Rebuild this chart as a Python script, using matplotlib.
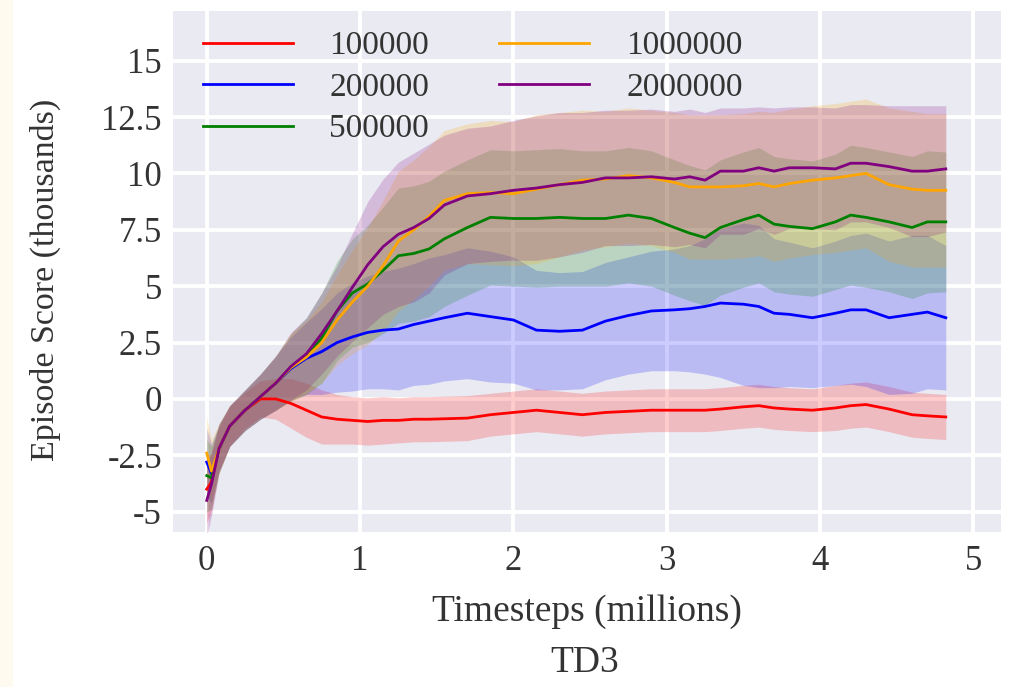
import numpy as np
import matplotlib
matplotlib.use('Agg')
import matplotlib.pyplot as plt
from matplotlib.patches import Rectangle

# ---- data (timesteps in millions, scores in thousands) ----
x = [0, 0.03, 0.08, 0.15, 0.25, 0.35, 0.45, 0.55, 0.65, 0.75, 0.85, 0.95,
     1.05, 1.15, 1.25, 1.35, 1.45, 1.55, 1.7, 1.85, 2.0, 2.15, 2.3, 2.45,
     2.6, 2.75, 2.9, 3.05, 3.15, 3.25, 3.35, 3.5, 3.6, 3.7, 3.8, 3.95,
     4.1, 4.2, 4.3, 4.45, 4.6, 4.7, 4.82]

labels = ['100000', '200000', '500000', '1000000', '2000000']
colors = ['red', 'blue', 'green', 'orange', 'purple']

mean_100k = [-4.0, -3.7, -2.2, -1.2, -0.5, 0.0, 0.0, -0.2, -0.5, -0.8, -0.9, -0.95,
             -1.0, -0.95, -0.95, -0.9, -0.9, -0.88, -0.85, -0.7, -0.6, -0.5, -0.6, -0.7,
             -0.6, -0.55, -0.5, -0.5, -0.5, -0.5, -0.45, -0.35, -0.3, -0.4, -0.45, -0.5,
             -0.4, -0.3, -0.25, -0.45, -0.7, -0.75, -0.8]
std_100k = [1.5, 1.3, 1.0, 0.9, 0.8, 0.8, 0.9, 1.1, 1.2, 1.2, 1.1, 1.05,
            1.05, 1.05, 1.0, 1.0, 1.0, 1.0, 1.0, 0.95, 0.95, 0.95, 0.95, 0.95,
            0.95, 0.95, 0.95, 0.95, 0.95, 0.95, 0.95, 0.95, 0.95, 0.95, 0.95, 0.95,
            1.0, 1.0, 1.0, 1.0, 1.0, 1.0, 1.0]

mean_200k = [-2.8, -3.3, -2.2, -1.2, -0.5, 0.1, 0.7, 1.35, 1.8, 2.1, 2.5, 2.75,
             2.95, 3.05, 3.1, 3.3, 3.45, 3.6, 3.8, 3.65, 3.5, 3.05, 3.0, 3.05,
             3.45, 3.7, 3.9, 3.95, 4.0, 4.1, 4.25, 4.2, 4.1, 3.8, 3.75, 3.6,
             3.8, 3.95, 3.95, 3.6, 3.75, 3.85, 3.6]
std_200k = [1.5, 1.3, 1.0, 0.9, 0.9, 1.0, 1.2, 1.4, 1.6, 1.9, 2.2, 2.4,
            2.5, 2.6, 2.7, 2.7, 2.8, 2.8, 2.9, 2.9, 2.8, 2.65, 2.6, 2.6,
            2.6, 2.6, 2.65, 2.7, 2.8, 3.0, 3.3, 3.6, 3.6, 3.3, 3.2, 3.1,
            3.2, 3.3, 3.4, 3.4, 3.5, 3.4, 3.2]

mean_500k = [-3.4, -3.5, -2.2, -1.2, -0.5, 0.1, 0.7, 1.4, 1.9, 2.7, 3.9, 4.7,
             5.1, 5.7, 6.35, 6.45, 6.65, 7.1, 7.6, 8.05, 8.0, 8.0, 8.05, 8.0,
             8.0, 8.15, 8.0, 7.6, 7.35, 7.15, 7.6, 7.95, 8.15, 7.75, 7.65, 7.55,
             7.85, 8.15, 8.05, 7.85, 7.6, 7.85, 7.85]
std_500k = [1.6, 1.4, 1.1, 0.9, 0.9, 1.0, 1.2, 1.5, 1.7, 2.0, 2.2, 2.4,
            2.6, 2.8, 3.0, 3.0, 3.0, 3.0, 3.0, 3.0, 3.0, 3.05, 3.05, 3.0,
            3.0, 3.0, 3.0, 3.0, 3.0, 3.0, 3.0, 3.0, 3.0, 3.0, 3.0, 3.0,
            3.0, 3.1, 3.1, 3.1, 3.15, 3.15, 3.1]

mean_1m = [-2.4, -3.2, -2.2, -1.2, -0.5, 0.1, 0.7, 1.4, 1.85, 2.5, 3.5, 4.3,
           5.0, 5.9, 7.0, 7.5, 8.1, 8.8, 9.1, 9.15, 9.1, 9.3, 9.5, 9.7,
           9.75, 9.9, 9.8, 9.6, 9.4, 9.4, 9.4, 9.45, 9.55, 9.4, 9.55, 9.7,
           9.8, 9.9, 10.0, 9.5, 9.3, 9.25, 9.25]
std_1m = [1.6, 1.4, 1.1, 0.9, 0.9, 1.0, 1.2, 1.5, 1.6, 1.8, 2.0, 2.3,
          2.6, 2.9, 3.1, 3.1, 3.1, 3.1, 3.1, 3.2, 3.2, 3.3, 3.2, 3.1,
          3.0, 3.0, 3.0, 3.1, 3.2, 3.2, 3.2, 3.2, 3.2, 3.3, 3.3, 3.3,
          3.3, 3.3, 3.3, 3.4, 3.45, 3.4, 3.4]

mean_2m = [-4.5, -3.8, -2.2, -1.2, -0.5, 0.1, 0.7, 1.45, 2.0, 2.9, 3.9, 4.95,
           5.95, 6.75, 7.3, 7.6, 8.0, 8.6, 9.0, 9.1, 9.25, 9.35, 9.5, 9.6,
           9.8, 9.8, 9.85, 9.75, 9.85, 9.7, 10.1, 10.1, 10.25, 10.1, 10.25, 10.25,
           10.2, 10.45, 10.45, 10.3, 10.1, 10.1, 10.2]
std_2m = [1.6, 1.4, 1.1, 0.9, 0.9, 1.0, 1.2, 1.5, 1.6, 1.8, 2.0, 2.4,
          2.8, 3.0, 3.2, 3.3, 3.3, 3.1, 3.0, 3.0, 3.1, 3.2, 3.2, 3.1,
          3.0, 3.0, 3.0, 3.0, 3.0, 3.0, 2.8, 2.8, 2.7, 2.8, 2.7, 2.7,
          2.7, 2.6, 2.6, 2.7, 2.9, 2.9, 2.8]

means = [mean_100k, mean_200k, mean_500k, mean_1m, mean_2m]
stds = [std_100k, std_200k, std_500k, std_1m, std_2m]

xticks = [0, 1, 2, 3, 4, 5]
yticks = [-5, -2.5, 0, 2.5, 5, 7.5, 10, 12.5, 15]
ytick_labels = ['-5', '-2.5', '0', '2.5', '5', '7.5', '10', '12.5', '15']

# ---- figure ----
plt.rcParams['font.family'] = ['Liberation Serif', 'DejaVu Serif']
TXT = '#333333'

fig = plt.figure(figsize=(10.11, 6.87), dpi=100)
fig.patch.set_facecolor('white')
fig.patches.append(Rectangle((0, 0), 13 / 1011, 1, transform=fig.transFigure,
                             facecolor='#fffaf0', edgecolor='none', zorder=-1))

ax = fig.add_axes([173 / 1011, 1 - 532 / 687, 828 / 1011, 521 / 687])
ax.set_facecolor('#EAEAF2')
for sp in ax.spines.values():
    sp.set_visible(False)
ax.grid(True, color='white', lw=2.8)
ax.set_axisbelow(True)

for m, s, c, lab in zip(means, stds, colors, labels):
    m = np.asarray(m); s = np.asarray(s)
    ax.plot(x, m, color=c, lw=2.0, label=lab)
    ax.fill_between(x, m - s, m + s, color=c, alpha=0.2, lw=0)

ax.set_xlim(-0.22, 5.18)
ax.set_ylim(-5.9, 17.2)
ax.set_xticks(xticks)
ax.set_xticklabels([str(t) for t in xticks])
ax.set_yticks(yticks)
ax.set_yticklabels(ytick_labels)
ax.tick_params(axis='both', length=0, labelsize=25, labelcolor=TXT)
ax.tick_params(axis='x', pad=9)
ax.tick_params(axis='y', pad=8)

ax.set_xlabel('Timesteps (millions)', fontsize=27, color=TXT, labelpad=12)
ax.set_ylabel('Episode Score (thousands)', fontsize=24.5, color=TXT)
ax.yaxis.set_label_coords(-0.1546, 0.484)
ax.yaxis.label.set_va('center')

fig.text(585 / 1011, 1 - 663 / 687, 'TD3', ha='center', va='center',
         fontsize=27, color=TXT)

ax.legend(ncol=2, loc='upper left', bbox_to_anchor=(0.036, 0.962),
          frameon=False, fontsize=24, handlelength=2.7, handletextpad=1.1,
          columnspacing=2.1, labelspacing=0.33, borderpad=0, borderaxespad=0,
          labelcolor=TXT)

fig.savefig('out.png', dpi=100, facecolor='white')
